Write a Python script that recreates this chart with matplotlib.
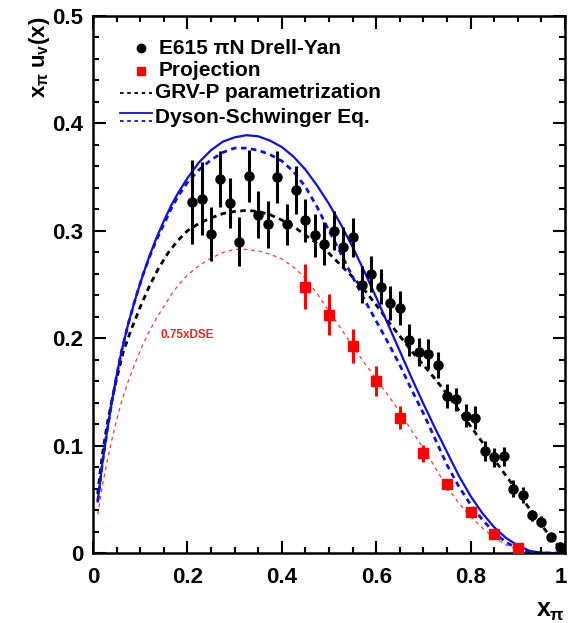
import numpy as np
import matplotlib
matplotlib.use("Agg")
import matplotlib.pyplot as plt
from matplotlib.ticker import MultipleLocator
import matplotlib.transforms as mtransforms

plt.rcParams['font.family'] = ['Liberation Sans', 'DejaVu Sans']
plt.rcParams['font.weight'] = 'bold'
plt.rcParams['mathtext.fontset'] = 'custom'
plt.rcParams['mathtext.rm'] = 'Liberation Sans:bold'
plt.rcParams['mathtext.it'] = 'Liberation Sans:bold'
plt.rcParams['mathtext.bf'] = 'Liberation Sans:bold'

# E615 data
e615_x = [0.21, 0.23, 0.25, 0.27, 0.29, 0.31, 0.33, 0.35, 0.37, 0.39,
          0.41, 0.43, 0.45, 0.47, 0.49, 0.51, 0.53, 0.55, 0.57, 0.59,
          0.61, 0.63, 0.65, 0.67, 0.69, 0.71, 0.73, 0.75, 0.77, 0.79,
          0.81, 0.83, 0.85, 0.87, 0.89, 0.91, 0.93, 0.95, 0.97, 0.99]
e615_y = [0.327, 0.330, 0.297, 0.348, 0.326, 0.290, 0.351, 0.315, 0.306, 0.350,
          0.306, 0.338, 0.310, 0.296, 0.288, 0.300, 0.285, 0.294, 0.250, 0.260,
          0.248, 0.233, 0.228, 0.198, 0.187, 0.185, 0.175, 0.146, 0.143, 0.128,
          0.126, 0.095, 0.089, 0.090, 0.060, 0.054, 0.035, 0.029, 0.015, 0.006]
e615_err = [0.039, 0.034, 0.025, 0.026, 0.023, 0.023, 0.024, 0.022, 0.022, 0.024,
            0.019, 0.022, 0.020, 0.020, 0.020, 0.018, 0.019, 0.018, 0.017, 0.017,
            0.016, 0.016, 0.016, 0.015, 0.013, 0.014, 0.012, 0.011, 0.011, 0.011,
            0.011, 0.009, 0.009, 0.009, 0.008, 0.007, 0.005, 0.005, 0.004, 0.004]

# Projection data
proj_x = [0.45, 0.50, 0.55, 0.60, 0.65, 0.70, 0.75, 0.80, 0.85, 0.90]
proj_y = [0.248, 0.222, 0.193, 0.160, 0.126, 0.093, 0.064, 0.038, 0.018, 0.005]
proj_err = [0.021, 0.019, 0.016, 0.014, 0.011, 0.008, 0.005, 0.004, 0.003, 0.003]

# GRV-P parametrization
grv_x = [0.01, 0.015, 0.02, 0.03, 0.04, 0.05, 0.064, 0.08, 0.10, 0.12, 0.14, 0.16,
         0.18, 0.20, 0.225, 0.25, 0.275, 0.30, 0.325, 0.35, 0.375, 0.40, 0.425,
         0.45, 0.475, 0.50, 0.525, 0.55, 0.575, 0.60, 0.625, 0.65, 0.675, 0.70,
         0.725, 0.75, 0.775, 0.80, 0.825, 0.85, 0.875, 0.90, 0.925, 0.95, 0.975, 1.0]
grv_y = [0.055, 0.075, 0.092, 0.120, 0.142, 0.162, 0.187, 0.207, 0.229, 0.249, 0.266, 0.280,
         0.291, 0.300, 0.307, 0.312, 0.316, 0.318, 0.319, 0.318, 0.315, 0.310, 0.304,
         0.296, 0.288, 0.279, 0.268, 0.257, 0.245, 0.231, 0.216, 0.202, 0.188, 0.175,
         0.162, 0.148, 0.133, 0.118, 0.103, 0.087, 0.072, 0.057, 0.041, 0.026, 0.012, 0.0]

# Dyson-Schwinger Eq. (solid)
dse_x = [0.01, 0.015, 0.02, 0.03, 0.04, 0.05, 0.06, 0.075, 0.09, 0.105, 0.12, 0.135,
         0.15, 0.165, 0.18, 0.20, 0.225, 0.25, 0.275, 0.30, 0.325, 0.35, 0.375, 0.40,
         0.425, 0.45, 0.475, 0.50, 0.525, 0.55, 0.575, 0.60, 0.625, 0.65, 0.675, 0.70,
         0.725, 0.75, 0.775, 0.80, 0.825, 0.85, 0.875, 0.90, 0.925, 0.95, 0.97, 1.0]
dse_y = [0.048, 0.066, 0.084, 0.114, 0.141, 0.165, 0.187, 0.214, 0.237, 0.258, 0.277, 0.294,
         0.309, 0.323, 0.335, 0.349, 0.364, 0.375, 0.383, 0.387, 0.389, 0.388, 0.384, 0.378,
         0.369, 0.357, 0.342, 0.325, 0.306, 0.285, 0.262, 0.238, 0.213, 0.188, 0.163, 0.139,
         0.116, 0.094, 0.072, 0.053, 0.037, 0.024, 0.014, 0.007, 0.002, 0.0003, 0.0, 0.0]

# Dyson-Schwinger Eq. (dashed)
dse2_x = [0.01, 0.015, 0.02, 0.03, 0.04, 0.05, 0.06, 0.075, 0.09, 0.105, 0.12, 0.135,
          0.15, 0.165, 0.18, 0.20, 0.225, 0.25, 0.275, 0.30, 0.325, 0.35, 0.375, 0.40,
          0.425, 0.45, 0.475, 0.50, 0.525, 0.55, 0.575, 0.60, 0.625, 0.65, 0.675, 0.70,
          0.725, 0.75, 0.775, 0.80, 0.825, 0.85, 0.875, 0.90, 0.925, 0.95, 1.0]
dse2_y = [0.048, 0.066, 0.084, 0.114, 0.141, 0.165, 0.187, 0.214, 0.237, 0.258, 0.276, 0.292,
          0.306, 0.320, 0.332, 0.345, 0.357, 0.366, 0.373, 0.377, 0.377, 0.375, 0.371, 0.365,
          0.355, 0.341, 0.322, 0.300, 0.279, 0.257, 0.236, 0.216, 0.196, 0.175, 0.152, 0.130,
          0.106, 0.082, 0.062, 0.045, 0.031, 0.019, 0.010, 0.004, 0.001, 0.0, 0.0]

# 0.75 x DSE, as labelled on the chart
dse75_y = [0.75 * v for v in dse2_y]

fig = plt.figure(figsize=(5.68, 6.23), dpi=100)
ax = fig.add_axes([93/568, 1-553/623, (565-93)/568, (553-16)/623])

ax.plot(dse2_x, dse75_y, color='#ff3a3a', lw=0.9, ls=(0, (3, 3)), zorder=2)
ax.plot(grv_x, grv_y, color='black', lw=2.0, ls=(0, (2, 1.6)), zorder=2)
ax.plot(dse2_x, dse2_y, color='#1010e0', lw=2.0, ls=(0, (2, 1.6)), zorder=2)
ax.plot(dse_x, dse_y, color='#1010e0', lw=1.6, zorder=2)

ax.errorbar(e615_x, e615_y, yerr=e615_err, fmt='o', color='black', ms=6.5,
            elinewidth=2.2, capsize=0, zorder=4)
ax.errorbar(proj_x, proj_y, yerr=proj_err, fmt='s', color='#ff0000', ms=6.5,
            elinewidth=2.2, capsize=0, zorder=5)

ax.set_xlim(0, 1)
ax.set_ylim(0, 0.5)
ax.xaxis.set_minor_locator(MultipleLocator(0.05))
ax.yaxis.set_minor_locator(MultipleLocator(0.02))
ax.set_xticks([0, 0.2, 0.4, 0.6, 0.8, 1.0])
ax.set_xticklabels(['0', '0.2', '0.4', '0.6', '0.8', '1'])
ax.set_yticks([0, 0.1, 0.2, 0.3, 0.4, 0.5])
ax.set_yticklabels(['0', '0.1', '0.2', '0.3', '0.4', '0.5'])
ax.tick_params(which='both', direction='in', top=True, right=True, width=1.5,
               labelsize=16)
ax.tick_params(axis='x', which='major', pad=10)
ax.tick_params(axis='y', which='major', pad=7)
ax.tick_params(which='major', length=9)
ax.tick_params(which='minor', length=4.5)
for lab in ax.get_xticklabels() + ax.get_yticklabels():
    lab.set_fontweight('bold')
# keep the last x label "1" inside the canvas
last = ax.get_xticklabels()[-1]
last.set_transform(last.get_transform() + mtransforms.ScaledTranslation(-4/100, 0, fig.dpi_scale_trans))
for s in ax.spines.values():
    s.set_linewidth(1.8)

# axis titles
fig.text(40/568, 1-17/623, r'$x_{\pi}\;u_{v}(x)$', rotation=90, ha='center', va='top', fontsize=16)
fig.text(550/568, 1-611/623, r'$x_{\pi}$', ha='center', va='center', fontsize=18)

# manual legend
def fy(py):
    return 1 - py/623
def fx(px):
    return px/568
fig.lines.append(plt.Line2D([fx(141)], [fy(48)], marker='o', color='black', ms=6, transform=fig.transFigure))
fig.text(fx(159), fy(48), 'E615 πN Drell-Yan', fontsize=15, fontweight='bold', va='center')
fig.lines.append(plt.Line2D([fx(141)], [fy(71)], marker='s', color='#ff0000', ms=6, transform=fig.transFigure))
fig.text(fx(159), fy(71), 'Projection', fontsize=15, fontweight='bold', va='center')
fig.lines.append(plt.Line2D([fx(120), fx(152)], [fy(93), fy(93)], color='black', lw=1.3,
                            ls=(0, (2, 2)), transform=fig.transFigure))
fig.text(fx(155), fy(93), 'GRV-P parametrization', fontsize=15, fontweight='bold', va='center')
fig.lines.append(plt.Line2D([fx(120), fx(152)], [fy(113), fy(113)], color='#1010e0', lw=1.3,
                            transform=fig.transFigure))
fig.lines.append(plt.Line2D([fx(120), fx(152)], [fy(121), fy(121)], color='#1010e0', lw=1.3,
                            ls=(0, (2, 2)), transform=fig.transFigure))
fig.text(fx(155), fy(117), 'Dyson-Schwinger Eq.', fontsize=15, fontweight='bold', va='center')

ax.text(0.142, 0.203, '0.75xDSE', color='#ff2020', fontsize=8.5, fontweight='bold', va='center')

fig.savefig('out.png', dpi=100)
